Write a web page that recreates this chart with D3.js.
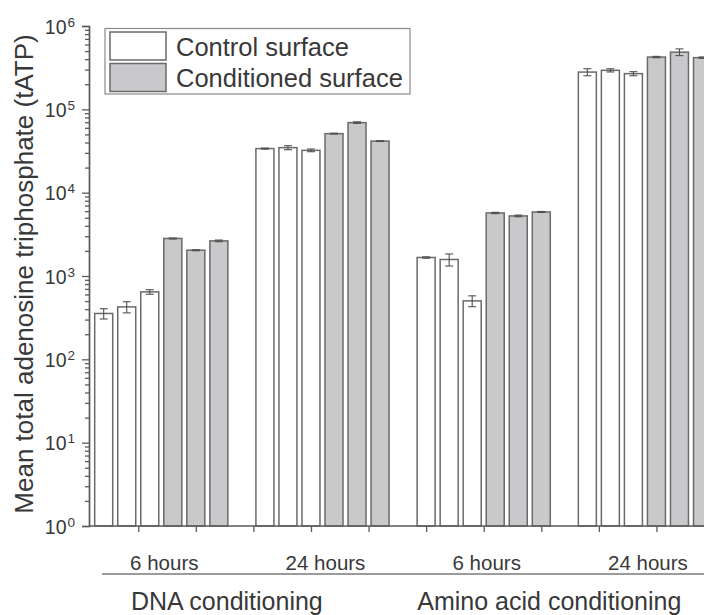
<!DOCTYPE html>
<html>
<head>
<meta charset="utf-8">
<script src="https://cdn.jsdelivr.net/npm/d3@7/dist/d3.min.js"></script>
<style>
  html, body { margin: 0; padding: 0; background: #fff; }
  svg { display: block; }
  text { font-family: "Liberation Sans", Arial, Helvetica, sans-serif; fill: #383838; }
</style>
</head>
<body>
<svg id="chart" width="704" height="615"></svg>
<script>
// Time points (one group of six bars each) and conditioning type (two groups each)
const timeLabels = ["6 hours", "24 hours", "6 hours", "24 hours"];
const conditioningLabels = ["DNA conditioning", "Amino acid conditioning"];
const seriesNames = ["Control surface", "Conditioned surface"];

// Mean tATP of three replicates per group, with error (SD)
const controlMean = [[355, 426, 645], [33800, 34700, 32200], [1667, 1578, 503], [280000, 294000, 268000]];
const controlErr = [[50, 65, 40], [500, 1900, 1200], [30, 260, 75], [27000, 13000, 15000]];
const conditionedMean = [[2820, 2040, 2640], [51100, 69300, 41600], [5710, 5260, 5870], [424000, 486000, 417000]];
const conditionedErr = [[40, 30, 60], [600, 1500, 500], [100, 120, 80], [8000, 45000, 8000]];

// Log axis decades
const yTickValues = [1, 10, 100, 1000, 10000, 100000, 1000000];

const svg = d3.select("#chart");
const W = 704, H = 615;
const axisX = 89, baseY = 526, topY = 26;
const slotsPerGroup = 7;           // six bars plus one empty slot
const barW = 18;
const fills = ["#ffffff", "#c9c9cb"];
const barStroke = "#6a6a6a";

const y = d3.scaleLog().domain([1, 1e6]).range([baseY, topY]);
const x = d3.scaleLinear().domain([0, 26]).range([103.7, 702.5]);

// Flatten into bar records
const bars = [];
timeLabels.forEach((t, g) => {
  [controlMean, conditionedMean].forEach((means, s) => {
    const errs = s === 0 ? controlErr : conditionedErr;
    means[g].forEach((v, r) => {
      bars.push({ group: g, series: s, value: v, err: errs[g][r], slot: g * slotsPerGroup + s * 3 + r });
    });
  });
});

// Bars
svg.append("g").selectAll("rect").data(bars).join("rect")
  .attr("x", d => x(d.slot) - barW / 2)
  .attr("y", d => y(d.value))
  .attr("width", barW)
  .attr("height", d => baseY - y(d.value))
  .attr("fill", d => fills[d.series])
  .attr("stroke", barStroke)
  .attr("stroke-width", 1.5);

// Error bars
const eb = svg.append("g").attr("stroke", "#505050").attr("stroke-width", 1.1).attr("fill", "none");
bars.forEach(d => {
  const cx = x(d.slot);
  const y1 = y(d.value + d.err), y0 = y(Math.max(d.value - d.err, 1));
  eb.append("line").attr("x1", cx).attr("x2", cx).attr("y1", y1).attr("y2", y0);
  eb.append("line").attr("x1", cx - 4).attr("x2", cx + 4).attr("y1", y1).attr("y2", y1);
  eb.append("line").attr("x1", cx - 4).attr("x2", cx + 4).attr("y1", y0).attr("y2", y0);
});

// Y axis: major ticks at decades, minor ticks 2..9
const minorTicks = [];
for (let e = 0; e < 6; e++) for (let m = 2; m <= 9; m++) minorTicks.push(m * Math.pow(10, e));

const yMajor = svg.append("g").attr("transform", `translate(${axisX},0)`)
  .call(d3.axisLeft(y).tickValues(yTickValues).tickSize(7).tickFormat(""));
const yMinor = svg.append("g").attr("transform", `translate(${axisX},0)`)
  .call(d3.axisLeft(y).tickValues(minorTicks).tickSize(4).tickFormat(""));
[yMajor, yMinor].forEach(a => {
  a.select(".domain").attr("stroke", "#5a5a5a").attr("stroke-width", 1.7);
  a.selectAll(".tick line").attr("stroke", "#5a5a5a").attr("stroke-width", 1.3);
});
yMinor.select(".domain").remove();

// Decade labels as 10 with superscript exponent
const yLab = svg.append("g");
yTickValues.forEach(v => {
  const ty = y(v);
  yLab.append("text").attr("x", 66.5).attr("y", ty + 7.5)
    .attr("text-anchor", "end").attr("font-size", 19.5).text("10");
  yLab.append("text").attr("x", 67.5).attr("y", ty + 0.5)
    .attr("font-size", 13.5).text(Math.round(Math.log10(v)));
});

// X axis line with small ticks every 2.5 slots
const xTicks = d3.range(1.5, 26, 2.5);
const xAxis = svg.append("g").attr("transform", `translate(0,${baseY})`)
  .call(d3.axisBottom(x).tickValues(xTicks).tickSize(6).tickSizeOuter(0).tickFormat(""));
xAxis.select(".domain").attr("d", `M${axisX},0H${W + 10}`).attr("stroke", "#5a5a5a").attr("stroke-width", 1.7);
xAxis.selectAll(".tick line").attr("stroke", "#5a5a5a").attr("stroke-width", 1.3);

// Time labels, centred under each group
svg.append("g").selectAll("text").data(timeLabels).join("text")
  .attr("x", (d, g) => x(g * slotsPerGroup + 2.5) + 3)
  .attr("y", 570)
  .attr("text-anchor", "middle")
  .attr("font-size", 20.5)
  .text(d => d);

// Separator rule between the two label rows
svg.append("line").attr("x1", 102).attr("x2", W + 10).attr("y1", 574).attr("y2", 574)
  .attr("stroke", "#7a7a7a").attr("stroke-width", 1.5);

// Conditioning labels
svg.append("g").selectAll("text").data(conditioningLabels).join("text")
  .attr("x", (d, i) => x(i * 2 * slotsPerGroup + 6) - 15)
  .attr("y", 609.5)
  .attr("text-anchor", "middle")
  .attr("font-size", 25)
  .text(d => d);

// Y axis title
svg.append("text")
  .attr("transform", `translate(32.5,${(baseY + topY) / 2 - 2}) rotate(-90)`)
  .attr("text-anchor", "middle")
  .attr("font-size", 26)
  .text("Mean total adenosine triphosphate (tATP)");

// Legend
const lg = svg.append("g");
lg.append("rect").attr("x", 105).attr("y", 28.5).attr("width", 305).attr("height", 65.5)
  .attr("fill", "#fff").attr("stroke", "#8a8a8a").attr("stroke-width", 1.2);
seriesNames.forEach((name, i) => {
  lg.append("rect").attr("x", 110).attr("y", 32 + i * 31.5).attr("width", 56).attr("height", 28)
    .attr("fill", fills[i]).attr("stroke", barStroke).attr("stroke-width", 1.5);
  lg.append("text").attr("x", 176).attr("y", 56 + i * 30.5).attr("font-size", 25.5).text(name);
});
</script>
</body>
</html>
